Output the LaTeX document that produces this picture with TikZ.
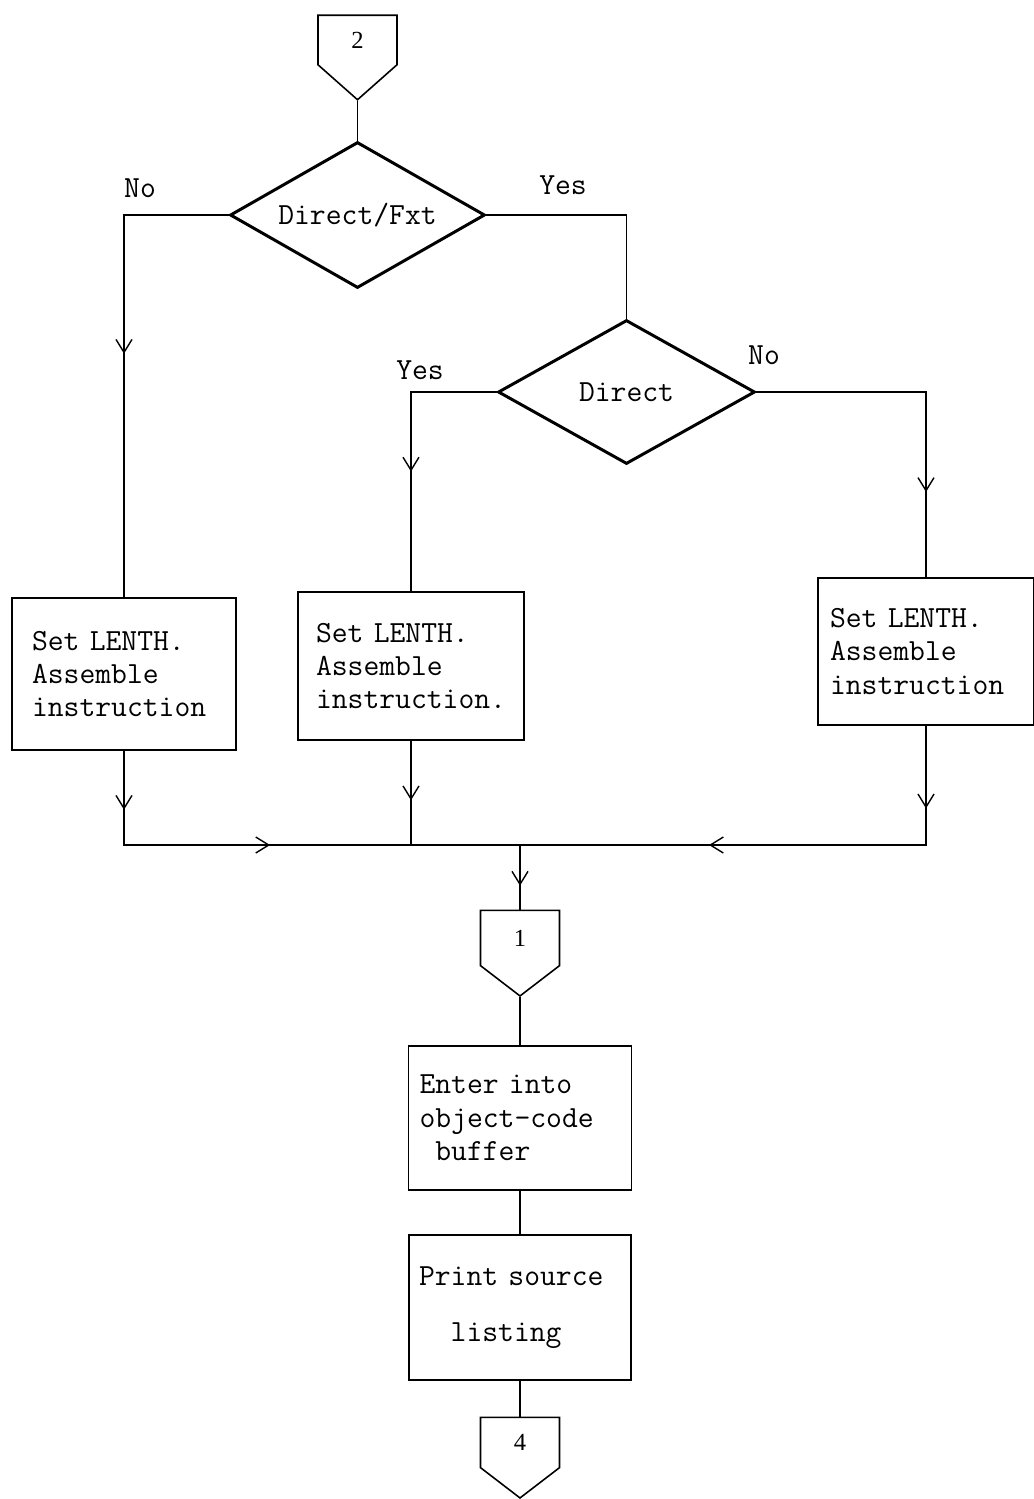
\documentclass[tikz,border=0pt]{standalone}
\usepackage{fontspec}
\newfontfamily\numserif{Liberation Serif}
\usetikzlibrary{arrows.meta,positioning,shapes.geometric,shapes.symbols,decorations.markings}
\newcommand\boxfont{\ttfamily\fontsize{17.5}{19}\selectfont
  \spaceskip=0.525em\xspaceskip=0.525em\relax}
\newcommand\numfont{\numserif\fontsize{14}{16}\selectfont}
\tikzset{
  decision/.style={diamond,aspect=1.8,draw,line width=1.7pt,inner sep=0pt,font=\boxfont},
  procbox/.style={rectangle,draw,line width=1.1pt,align=left,inner ysep=0pt,font=\boxfont},
  offpage/.style={signal,signal to=south,signal pointer angle=105,draw,line width=0.9pt,
    inner sep=0pt,minimum width=1.58cm,font=\numfont},
  lbl/.style={font=\boxfont,inner sep=0pt},
  flow/.style={line width=0.9pt},
  midarrow/.style={postaction={decorate,decoration={markings,
    mark=at position #1 with {\arrow{>}}}}}
}

\begin{document}
\begin{tikzpicture}[x=0.02cm,y=-0.02cm,>={Straight Barb[length=2.6mm,width=3.2mm,line width=0.8pt]}]
  \useasboundingbox (0,0) rectangle (1034,1499);
  % tests
  \node[offpage,signal pointer angle=97,minimum height=1.1cm] (conn2) at (357.5,40) {2};
  \node[decision,minimum width=5.1cm,minimum height=2.92cm] (direxT) at (357.5,215)
    {Direct/Fxt};
  \node[decision,minimum width=5.14cm,minimum height=2.88cm] (direct) at (626.5,392)
    {Direct\hspace{1.5cm}};
  \node[lbl] (nolft) at (140,188) {No};
  \node[lbl] (yestop) at (563,185) {Yes};
  \node[lbl] (yeslft) at (420,370) {Yes};
  \node[lbl] (norgt) at (764,355) {No};
  % assembly boxes
  \node[procbox,inner xsep=0.4cm,text width=3.68cm,minimum height=3.04cm] (set1)
    at (124,674) {Set LENTH.\\Assemble\\instruction};
  \node[procbox,inner xsep=0.36cm,text width=3.8cm,minimum height=2.96cm] (set2)
    at (411,666) {Set LENTH.\\Assemble\\instruction.};
  \node[procbox,inner xsep=0.24cm,text width=3.84cm,minimum height=2.94cm] (set3)
    at (926,651.5) {Set LENTH.\\Assemble\\instruction};
  \coordinate (merge) at (520,845);
  % output part
  \node[offpage,minimum height=1.2cm] (conn1) at (520,938) {1};
  \node[procbox,inner xsep=0.22cm,text width=4.02cm,minimum height=2.88cm] (enter)
    at (520,1118) {Enter into\\object-code\\\phantom{x}buffer};
  \node[procbox,inner xsep=0.2cm,text width=4.04cm,minimum height=2.9cm] (print)
    at (520,1307.5) {Print source\\[0.44cm]\phantom{xx}listing};
  \node[offpage,minimum height=1.1cm] (conn4) at (520,1442.5) {4};

  \draw[flow] (conn2.south) -- (direxT.north);
  \draw[flow,midarrow=0.5] (direxT.west) -| (set1.north);
  \draw[flow] (direxT.east) -| (direct.north);
  \draw[flow,midarrow=0.58] (direct.west) -| (set2.north);
  \draw[flow,midarrow=0.76] (direct.east) -| (set3.north);
  \draw[flow,midarrow=0.12,midarrow=0.49] (set1.south) |- (merge);
  \draw[flow,midarrow=0.57] (set2.south) -- (set2.south |- merge);
  \draw[flow,midarrow=0.157,midarrow=0.64] (set3.south) |- (merge);
  \draw[flow,midarrow=0.63] (merge) -- (conn1.north);
  \draw[flow] (conn1.south) -- (enter.north);
  \draw[flow] (enter.south) -- (print.north);
  \draw[flow] (print.south) -- (conn4.north);
\end{tikzpicture}
\end{document}
